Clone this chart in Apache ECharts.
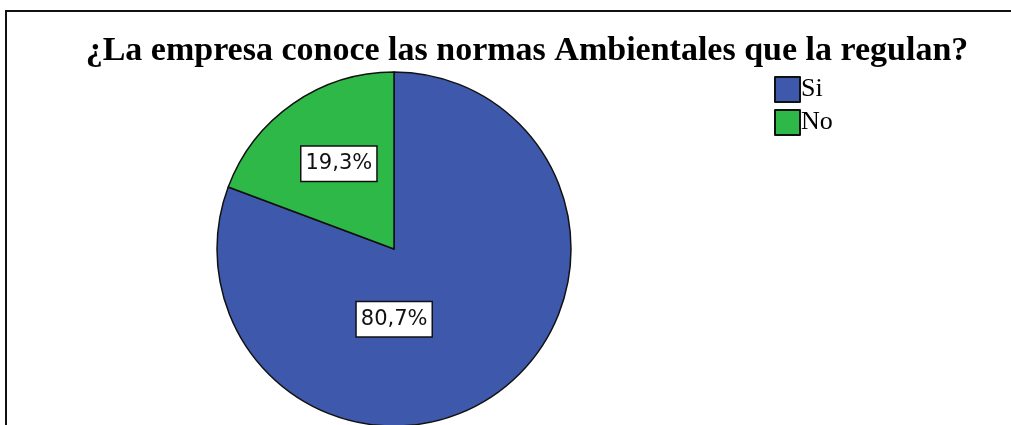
<!DOCTYPE html>
<html>
<head>
<meta charset="utf-8">
<script src="https://cdn.jsdelivr.net/npm/echarts@6/dist/echarts.min.js"></script>
<style>html,body{margin:0;padding:0;background:#fff}#c{width:1011px;height:425px}</style>
</head>
<body>
<div id="c"></div>
<script>
const titleText = '¿La empresa conoce las normas Ambientales que la regulan?';
const categories = ['Si', 'No'];
const values = [80.7, 19.3];
const colors = ['#3E58AC', '#2EB848'];
const labelOffsets = [[-52, -5], [-3, -10]];

const chart = echarts.init(document.getElementById('c'), null, {renderer: 'canvas'});
chart.setOption({
  animation: false,
  backgroundColor: '#fff',
  graphic: [{
    type: 'rect',
    shape: {x: 6, y: 11, width: 1101, height: 500},
    style: {fill: 'none', stroke: '#111', lineWidth: 2},
    z: 100
  }],
  title: {
    text: titleText,
    left: 527,
    textAlign: 'center',
    top: 34,
    padding: 0,
    textStyle: {fontFamily: 'Liberation Serif', fontWeight: 'bold', fontSize: 34, color: '#000'}
  },
  legend: {
    orient: 'vertical',
    left: 774,
    top: 76,
    padding: 0,
    itemWidth: 25,
    itemHeight: 25,
    itemGap: 6,
    icon: 'rect',
    data: categories,
    textStyle: {fontFamily: 'Liberation Serif', fontSize: 26, color: '#000', padding: [0, 0, 0, -4]}
  },
  series: [{
    type: 'pie',
    center: [394, 249],
    radius: 177,
    startAngle: 90,
    clockwise: true,
    avoidLabelOverlap: false,
    itemStyle: {borderColor: '#111', borderWidth: 1.5},
    label: {
      show: true,
      position: 'inside',
      formatter: p => p.value.toFixed(1).replace('.', ',') + '%',
      fontFamily: 'DejaVu Sans',
      fontSize: 21,
      color: '#111',
      backgroundColor: '#fff',
      borderColor: '#111',
      borderWidth: 1.5,
      padding: [7, 4, 6, 4]
    },
    labelLine: {show: false},
    emphasis: {disabled: true},
    data: categories.map((n, i) => ({
      name: n,
      value: values[i],
      itemStyle: {color: colors[i]},
      label: {offset: labelOffsets[i]}
    }))
  }]
});
</script>
</body>
</html>
